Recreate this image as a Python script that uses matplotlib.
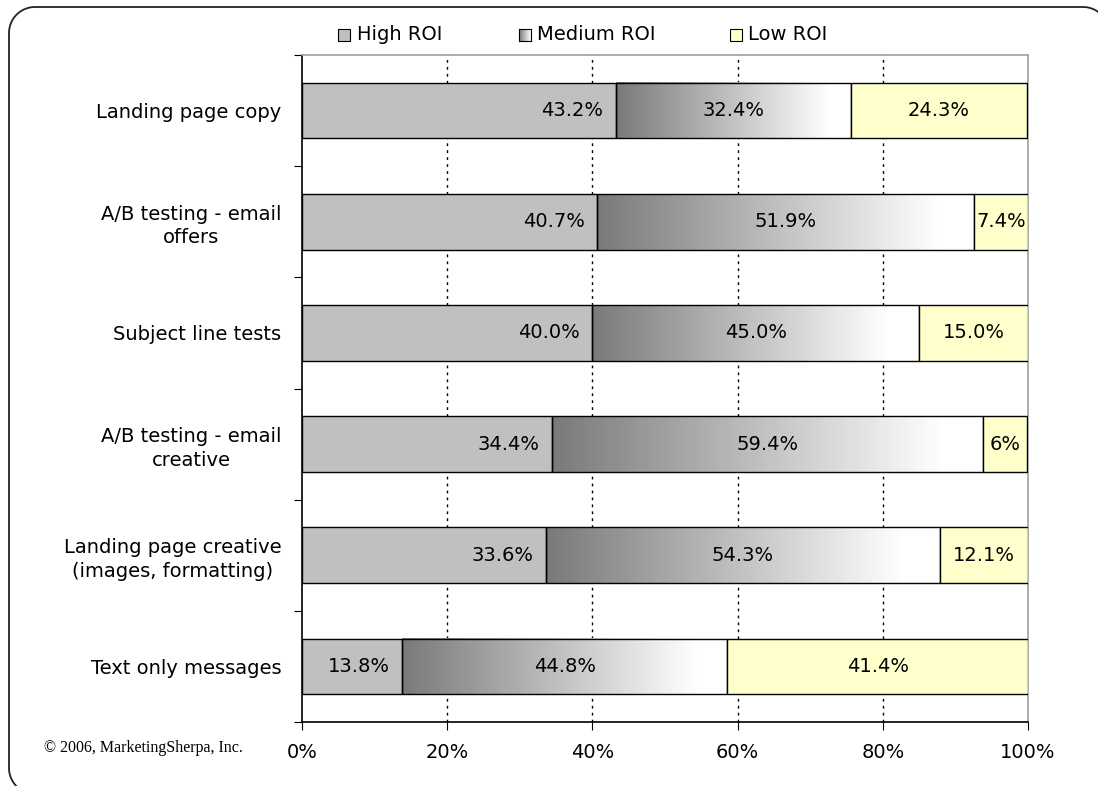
import numpy as np
import matplotlib
matplotlib.use("Agg")
import matplotlib.pyplot as plt
from matplotlib.patches import FancyBboxPatch, Rectangle
from matplotlib.colors import LinearSegmentedColormap

categories = ["Landing page copy", "A/B testing - email\noffers", "Subject line tests",
              "A/B testing - email\ncreative", "Landing page creative\n(images, formatting)",
              "Text only messages"]
high = [43.2, 40.7, 40.0, 34.4, 33.6, 13.8]
medium = [32.4, 51.9, 45.0, 59.4, 54.3, 44.8]
low = [24.3, 7.4, 15.0, 6.0, 12.1, 41.4]
low_labels = ["24.3%", "7.4%", "15.0%", "6%", "12.1%", "41.4%"]
series_names = ["High ROI", "Medium ROI", "Low ROI"]
xticks = [0, 20, 40, 60, 80, 100]
xtick_labels = ["0%", "20%", "40%", "60%", "80%", "100%"]

FONT = "DejaVu Sans"
FS = 14
plt.rcParams['font.family'] = [FONT]

W, H = 1098, 786
fig = plt.figure(figsize=(W / 100, H / 100), dpi=100)
fig.patch.set_facecolor("white")
ax = fig.add_axes([302 / W, 1 - 722 / H, (1028 - 302) / W, (722 - 55) / H])

n = len(categories)
ypos = np.arange(n)[::-1] + 0.5
bh = 0.5
high_c = "#c0c0c0"
low_c = "#ffffcc"
grad_cmap = LinearSegmentedColormap.from_list("g", ["#7a7a7a", "#ffffff"])
grad = np.clip(np.linspace(0, 1.1, 256), 0, 1).reshape(1, -1)

# gridlines
for xv in xticks[1:-1]:
    ax.axvline(xv, color="black", lw=1, linestyle=(0, (2, 3)), zorder=0)

ax.barh(ypos, high, height=bh, color=high_c, edgecolor="black", lw=1, zorder=3)
for y, h, m in zip(ypos, high, medium):
    ax.imshow(grad, extent=[h, h + m, y - bh / 2, y + bh / 2], aspect="auto",
              cmap=grad_cmap, vmin=0, vmax=1, zorder=2, interpolation="bilinear")
ax.barh(ypos, medium, left=high, height=bh, color="none", edgecolor="black", lw=1, zorder=3)
left_low = [h + m for h, m in zip(high, medium)]
ax.barh(ypos, low, left=left_low, height=bh, color=low_c, edgecolor="black", lw=1, zorder=3)

for y, h, m, l, ll in zip(ypos, high, medium, low, low_labels):
    ax.annotate(f"{h:.1f}%", (h, y), xytext=(-9, 0), textcoords="offset points",
                ha="right", va="center", fontsize=FS, zorder=5)
    ax.text(h + m / 2, y, f"{m:.1f}%", ha="center", va="center", fontsize=FS, zorder=5)
    ax.text(h + m + l / 2, y, ll, ha="center", va="center", fontsize=FS, zorder=5)

ax.set_xlim(0, 100)
ax.set_ylim(0, n)
ax.set_xticks(xticks)
ax.set_xticklabels(xtick_labels, fontsize=FS)
ax.set_yticks(np.arange(n + 1))
ax.set_yticklabels([])
ax.set_yticks(ypos, minor=True)
ax.set_yticklabels(categories, minor=True, fontsize=FS, linespacing=1.3, ha="right",
                   multialignment="center")
ax.tick_params(axis="y", which="minor", length=0, pad=15)
ax.tick_params(axis="y", which="major", direction="out", length=6, color="black")
ax.tick_params(axis="x", direction="out", length=6, pad=9, color="black")
for s in ["top", "right"]:
    ax.spines[s].set_color("#a0a0a0")
    ax.spines[s].set_linewidth(1.2)
for s in ["left", "bottom"]:
    ax.spines[s].set_color("black")
    ax.spines[s].set_linewidth(1.2)

# legend
ly = 1 - 35 / H
sq = 12
items = [(338, 357, high_c), (519, 537, None), (730, 748, low_c)]
for (sx, tx, col), name in zip(items, series_names):
    if col is None:
        ax_l = fig.add_axes([sx / W, (H - 35 - sq / 2) / H, sq / W, sq / H])
        ax_l.imshow(np.linspace(0, 1, 64).reshape(1, -1), cmap=grad_cmap, aspect="auto")
        ax_l.set_xticks([]); ax_l.set_yticks([])
        for sp in ax_l.spines.values():
            sp.set_color("black"); sp.set_linewidth(0.8)
    else:
        fig.patches.append(Rectangle((sx / W, (H - 35 - sq / 2) / H), sq / W, sq / H,
                                     transform=fig.transFigure, facecolor=col,
                                     edgecolor="black", lw=0.8))
    fig.text(tx / W, ly, name, fontsize=FS, va="center", ha="left")

fig.text(44 / W, 1 - 748 / H, "\u00a9 2006, MarketingSherpa, Inc.", family="Liberation Serif",
         fontsize=11.5, va="center", ha="left")

# rounded frame, drawn in pixel coordinates
r = 26
x0, x1, y0, y1 = 9, 1109, -8, 779
t = np.linspace(0, np.pi / 2, 30)
px = np.concatenate([x1 - r + r * np.cos(t), x0 + r - r * np.sin(t),
                     x0 + r - r * np.cos(t), x1 - r + r * np.sin(t), [x1]])
py = np.concatenate([y1 - r + r * np.sin(t), y1 - r + r * np.cos(t),
                     y0 + r - r * np.sin(t), y0 + r - r * np.cos(t), [y1 - r]])
fig.add_artist(plt.Line2D(px / W, py / H, transform=fig.transFigure, color="#222222", lw=1.3))

fig.savefig("out.png", dpi=100)
